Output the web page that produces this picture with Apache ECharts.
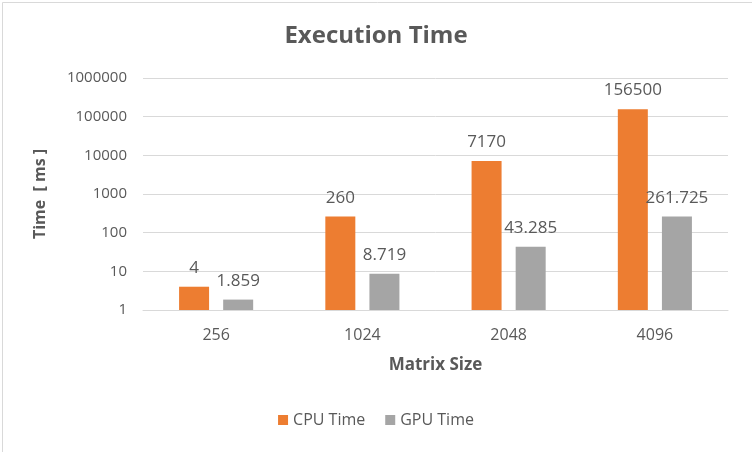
<!DOCTYPE html>
<html><head><meta charset="utf-8">
<script src="https://cdn.jsdelivr.net/npm/echarts@6/dist/echarts.min.js"></script>
<style>html,body{margin:0;padding:0;background:#fff}#c{width:752px;height:452px}</style>
</head><body><div id="c"></div>
<script>
const categories = ['256', '1024', '2048', '4096'];
const cpuTime = [4, 260, 7170, 156500];
const gpuTime = [1.859, 8.719, 43.285, 261.725];
const seriesNames = ['CPU Time', 'GPU Time'];

const FONT = '"Open Sans", "Liberation Sans", sans-serif';
const TXT = '#595959';
const chart = echarts.init(document.getElementById('c'), null, {renderer: 'canvas'});
chart.setOption({
  animation: false,
  backgroundColor: '#fff',
  textStyle: {fontFamily: FONT},
  title: {
    text: 'Execution Time', left: 'center', top: 19,
    textStyle: {fontFamily: FONT, fontSize: 24, fontWeight: 'bold', color: TXT}
  },
  graphic: [{
    type: 'rect', left: 0, top: 0, silent: true,
    shape: {x: 0.5, y: 0.5, width: 751, height: 451},
    style: {fill: null, stroke: '#d9d9d9', lineWidth: 1}
  }],
  legend: {
    bottom: 19, left: 'center', itemWidth: 10, itemHeight: 10, itemGap: 20,
    icon: 'rect',
    textStyle: {fontFamily: FONT, fontSize: 16, color: TXT}
  },
  grid: {left: 143, right: 24, top: 78, bottom: 142, containLabel: false},
  xAxis: {
    type: 'category', data: categories,
    name: 'Matrix Size', nameLocation: 'middle', nameGap: 47,
    nameTextStyle: {fontFamily: FONT, fontSize: 17, fontWeight: 'bold', color: TXT},
    axisLine: {lineStyle: {color: '#d9d9d9', width: 1}},
    axisTick: {show: false},
    axisLabel: {fontFamily: FONT, fontSize: 16, color: TXT, margin: 17}
  },
  yAxis: {
    type: 'log', logBase: 10, min: 1, max: 1000000,
    name: 'Time  [ ms ]', nameLocation: 'middle', nameGap: 95, nameRotate: 90,
    nameTextStyle: {fontFamily: FONT, fontSize: 16, fontWeight: 'bold', color: TXT},
    axisLine: {show: false}, axisTick: {show: false},
    splitLine: {lineStyle: {color: '#d9d9d9', width: 1}},
    axisLabel: {fontFamily: FONT, fontSize: 15, color: TXT, margin: 16,
      formatter: v => String(Math.round(v))}
  },
  series: [
    {name: seriesNames[0], type: 'bar', data: cpuTime, barWidth: 30, barGap: '47%',
     itemStyle: {color: '#ed7d31'},
     label: {show: true, position: 'top', distance: 10, fontFamily: FONT, fontSize: 17, color: TXT}},
    {name: seriesNames[1], type: 'bar', data: gpuTime, barWidth: 30,
     itemStyle: {color: '#a5a5a5'},
     label: {show: true, position: 'top', distance: 10, fontFamily: FONT, fontSize: 17, color: TXT}}
  ]
});
</script></body></html>
